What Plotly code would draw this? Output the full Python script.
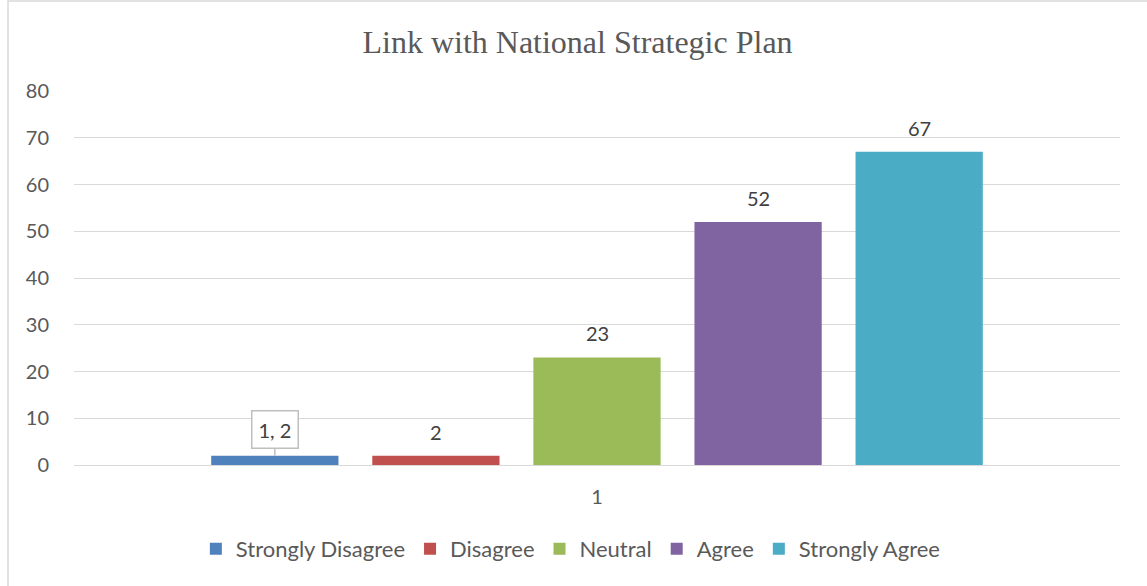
import plotly.graph_objects as go

# Survey responses for "Link with National Strategic Plan"
category = ["1"]
series_names = ["Strongly Disagree", "Disagree", "Neutral", "Agree", "Strongly Agree"]
series_values = [2, 2, 23, 52, 67]
series_colors = ["#4f81bd", "#c0504d", "#9bbb59", "#8064a2", "#4bacc6"]
y_ticks = [0, 10, 20, 30, 40, 50, 60, 70, 80]

SANS = "Lato, Calibri, Carlito, sans-serif"
SERIF = "Liberation Serif, Times New Roman, serif"
TEXT_GREY = "#595959"
LABEL_GREY = "#404040"
GRID_GREY = "#d9d9d9"

BARGAP = 0.23
BARGROUPGAP = 0.21

W, H = 1147, 586
M_L, M_R, M_T, M_B = 74, 27, 91, 121

fig = go.Figure()
for name, val, col in zip(series_names, series_values, series_colors):
    fig.add_trace(go.Bar(
        x=category, y=[val], name=name,
        marker=dict(color=col, line=dict(width=0)),
        hoverinfo="name+y",
    ))

# Data labels centred above each bar of the group
n = len(series_names)
slot = (1 - BARGAP) / n
annotations = []
for i, (name, val) in enumerate(zip(series_names, series_values)):
    xpos = (i - (n - 1) / 2) * slot
    if i == 0:
        # callout-style label for the first series
        annotations.append(dict(
            x=xpos, y=val, xref="x", yref="y",
            text=f"{category[0]}, {val}",
            showarrow=True, arrowhead=0, arrowwidth=1.5, arrowcolor="#bfbfbf",
            ax=0, ay=-26, standoff=0,
            bordercolor="#bfbfbf", borderwidth=1.5, borderpad=6, bgcolor="white",
            font=dict(family=SANS, size=20, color=LABEL_GREY),
        ))
    else:
        annotations.append(dict(
            x=xpos, y=val, xref="x", yref="y",
            text=str(val), showarrow=False,
            yanchor="middle", yshift=24,
            font=dict(family=SANS, size=20, color=LABEL_GREY),
        ))

plot_w = W - M_L - M_R
plot_h = H - M_T - M_B
# light frame around the whole chart
frame = dict(
    type="rect", xref="paper", yref="paper",
    x0=(8 - M_L) / plot_w, x1=(W + 5 - M_L) / plot_w,
    y0=-(H + 5 - M_T - plot_h) / plot_h, y1=(plot_h + M_T - 1) / plot_h,
    line=dict(color=GRID_GREY, width=1.5), fillcolor="rgba(0,0,0,0)", layer="below",
)

fig.update_layout(
    width=W, height=H,
    margin=dict(l=M_L, r=M_R, t=M_T, b=M_B),
    paper_bgcolor="white", plot_bgcolor="white",
    barmode="group", bargap=BARGAP, bargroupgap=BARGROUPGAP,
    title=dict(
        text="Link with National Strategic Plan",
        x=0.5035, xref="container", xanchor="center",
        y=1 - 42 / H, yref="container", yanchor="middle",
        font=dict(family=SERIF, size=32, color=TEXT_GREY),
    ),
    xaxis=dict(
        type="category", showgrid=False, showline=False, zeroline=False,
        ticks="", ticklabelstandoff=18,
        tickfont=dict(family=SANS, size=20, color=TEXT_GREY),
    ),
    yaxis=dict(
        range=[0, 80], tickvals=y_ticks, showgrid=True, gridcolor=GRID_GREY,
        gridwidth=1, zeroline=True, zerolinecolor=GRID_GREY, zerolinewidth=1,
        showline=False, ticks="", ticklabelstandoff=24,
        tickfont=dict(family=SANS, size=20, color=TEXT_GREY),
    ),
    legend=dict(
        orientation="h", x=0.475, xanchor="center", y=-(549 - M_T - plot_h) / plot_h,
        yanchor="middle", font=dict(family=SANS, size=22, color=TEXT_GREY),
        itemclick=False, traceorder="normal",
    ),
    annotations=annotations,
    shapes=[frame],
    showlegend=True,
)

fig.write_html("out.html")
